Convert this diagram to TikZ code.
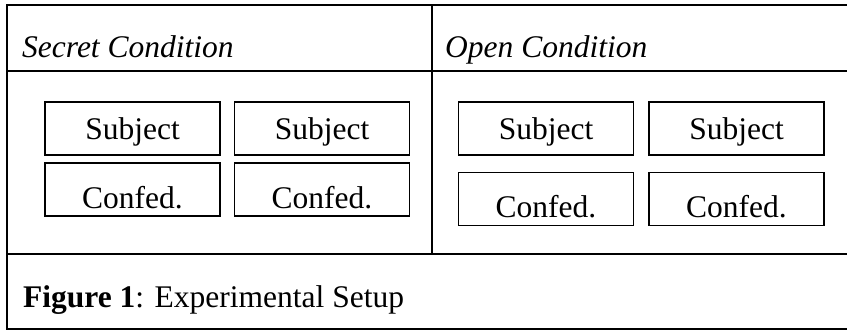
\documentclass[tikz,border=0pt]{standalone}
\usepackage{fontspec}
\setmainfont{Liberation Serif}
\begin{document}
\begin{tikzpicture}[x=1pt,y=-1pt,
  frame/.style={line width=2pt},
  rolebox/.style={draw,line width=1.3pt,inner sep=0pt,minimum width=175pt,minimum height=53pt,
    font=\fontsize{31.5}{36}\selectfont,text depth=0pt},
  subj/.style={rolebox,text height=21.6pt},
  conf/.style={rolebox,text height=38pt},
  head/.style={anchor=base west,inner sep=0pt,font=\fontsize{31.5}{36}\selectfont\itshape},
  caption/.style={anchor=base west,inner sep=0pt,font=\fontsize{31.5}{36}\selectfont}]
\useasboundingbox (0,0) rectangle (847,331);
\clip (0,0) rectangle (847,331);
% table frame and rules
\coordinate (tl) at (7,5);
\coordinate (bl) at (7,329);
\draw[frame] (850,5) -- (tl) -- (bl) -- (850,329);
\draw[frame] (7,71) -- (850,71);
\draw[frame] (7,254) -- (850,254);
\draw[frame] (432,5) -- (432,254);
% column headings
\node[head] (hsecret) at (22,57.5) {Secret Condition};
\node[head] (hopen) at (445,57.5) {Open Condition};
% secret condition
\node[subj] (s1) at (132.5,128.5) {Subject};
\node[subj] (s2) at (322,128.5) {Subject};
\node[conf] (c1) at (132.5,189.5) {Confed.};
\node[conf] (c2) at (322,189.5) {Confed.};
% open condition
\node[subj] (s3) at (546,128.5) {Subject};
\node[subj] (s4) at (736.5,128.5) {Subject};
\node[conf] (c3) at (546,199) {Confed.};
\node[conf] (c4) at (736.5,199) {Confed.};
% caption
\node[caption] (cap) at (23,308) {\textbf{Figure 1}: Experimental Setup};
\end{tikzpicture}
\end{document}
